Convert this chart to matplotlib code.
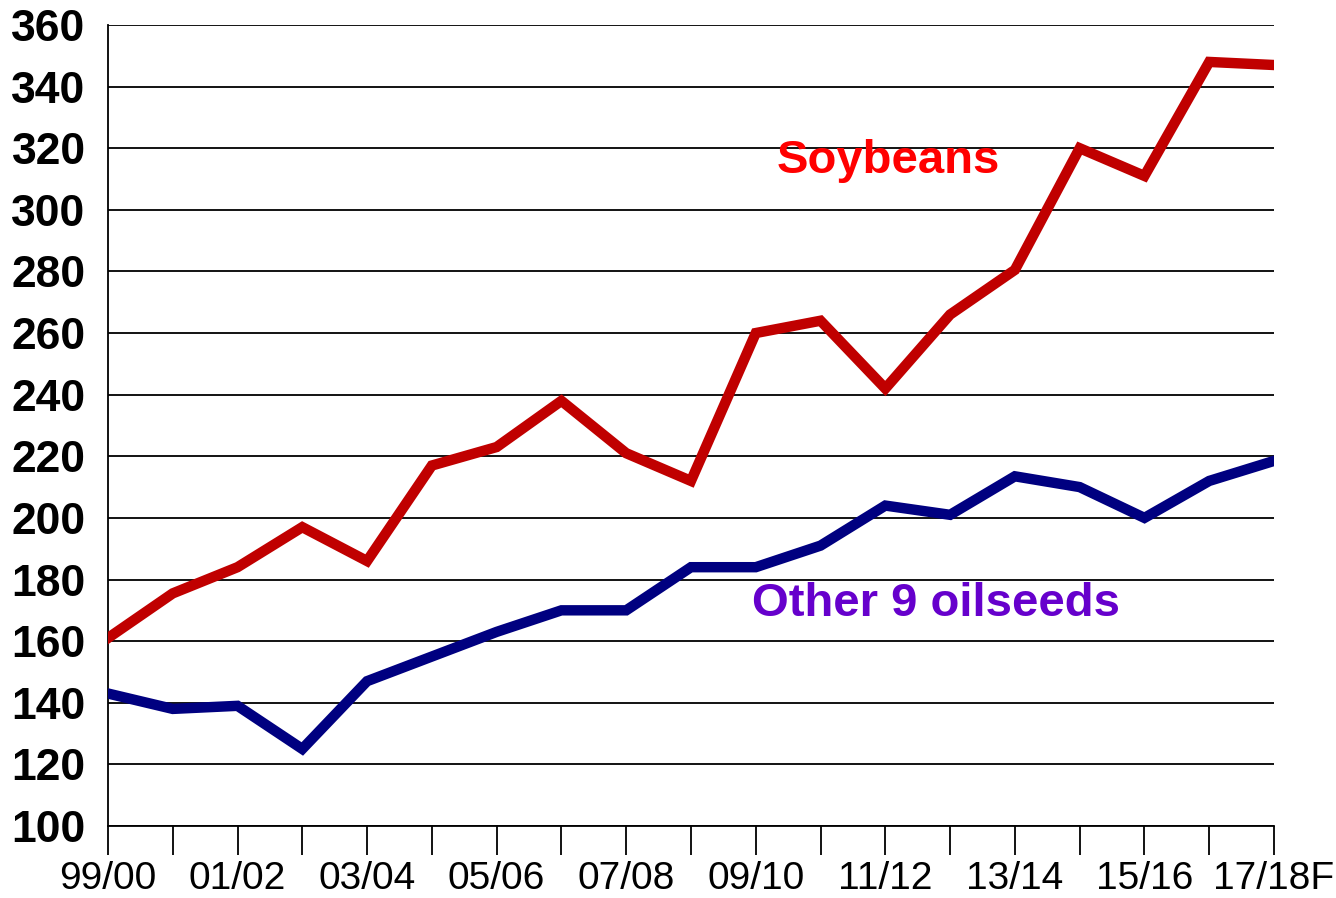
import matplotlib.pyplot as plt

seasons = ["99/00", "00/01", "01/02", "02/03", "03/04", "04/05", "05/06", "06/07",
           "07/08", "08/09", "09/10", "10/11", "11/12", "12/13", "13/14", "14/15",
           "15/16", "16/17", "17/18F"]
soybeans = [161, 175.5, 184, 197, 186, 217, 223, 238, 221, 212, 260, 264, 242,
            266, 280.5, 320, 311, 348, 347]
other_oilseeds = [143, 138, 139, 125, 147, 155, 163, 170, 170, 184, 184, 191, 204,
                  201, 213.5, 210, 200, 212, 218.5]

plt.rcParams['font.family'] = ['Liberation Sans', 'DejaVu Sans']

fig = plt.figure(figsize=(13.36, 8.98), dpi=100)
ax = fig.add_axes([0.0808, 0.0802, 0.8728, 0.892])

x = list(range(len(seasons)))
ax.plot(x, soybeans, color="#C00000", lw=7.5, solid_joinstyle="miter", zorder=3)
ax.plot(x, other_oilseeds, color="#000080", lw=7.5, solid_joinstyle="miter", zorder=3)

ax.set_xlim(0, len(seasons) - 1)
ax.set_ylim(100, 360)
ax.set_yticks(range(100, 361, 20))
ax.set_xticks(x)
ax.set_xticklabels([s if i % 2 == 0 else "" for i, s in enumerate(seasons)])

ax.grid(axis="y", color="black", lw=1.3)
ax.set_axisbelow(True)
ax.spines["top"].set_visible(False)
ax.spines["right"].set_visible(False)
ax.spines["left"].set_linewidth(1.3)
ax.spines["bottom"].set_linewidth(1.3)

ax.tick_params(axis="y", length=0, pad=16, labelsize=32)
ax.tick_params(axis="x", direction="out", length=21, width=1.3, pad=4, labelsize=28)
for lab in ax.get_yticklabels():
    lab.set_fontweight("bold")

ax.text(12.04, 316, "Soybeans", color="#FF0000", fontsize=34, fontweight="bold",
        ha="center", va="center")
ax.text(12.78, 172, "Other 9 oilseeds", color="#6600CC", fontsize=34, fontweight="bold",
        ha="center", va="center")

fig.savefig("out.png", dpi=100)
